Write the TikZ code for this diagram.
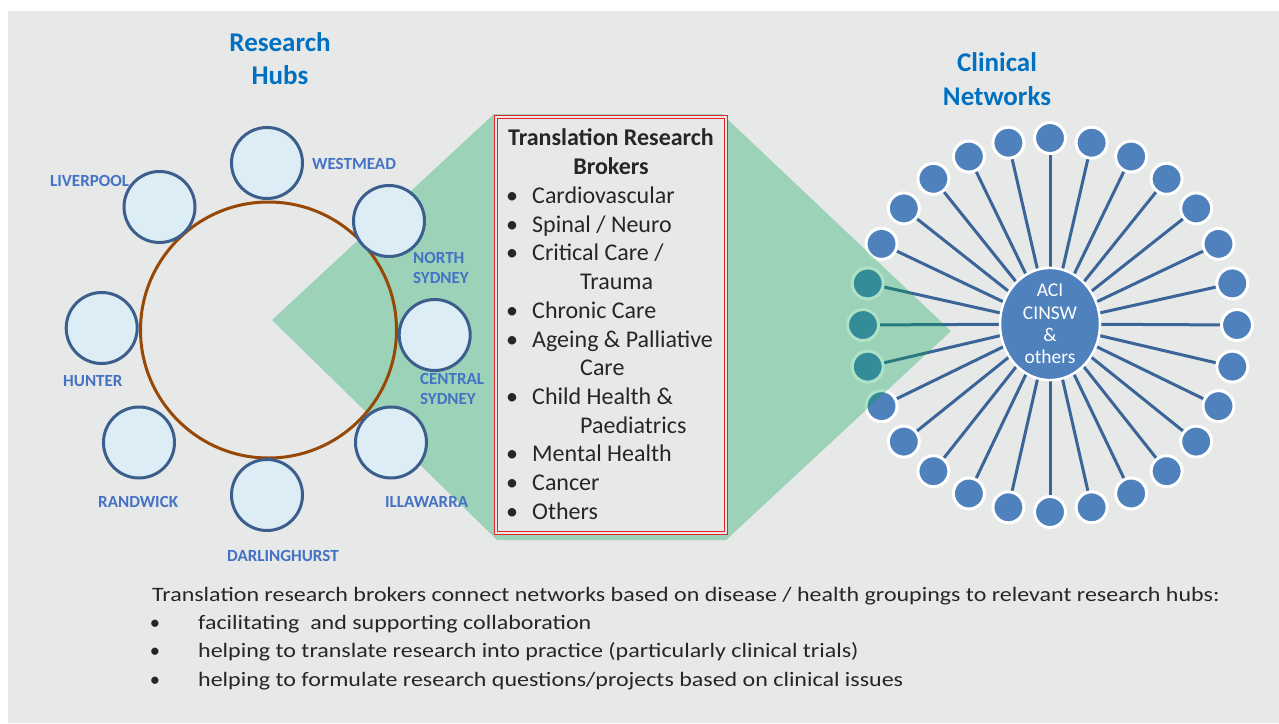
\documentclass[tikz,border=0pt]{standalone}
\usepackage{fontspec}
\setmainfont{Carlito}
\newfontfamily\widefont[FakeStretch=1.17]{Carlito}
\usetikzlibrary{shapes.geometric}
\definecolor{bgg}{RGB}{231,232,232}
\definecolor{titleblue}{RGB}{0,112,192}
\definecolor{labblue}{RGB}{68,114,196}
\definecolor{hubstroke}{RGB}{59,94,140}
\definecolor{hubfill}{RGB}{220,237,245}
\definecolor{brown}{RGB}{151,72,6}
\definecolor{netblue}{RGB}{79,129,189}
\definecolor{netline}{RGB}{59,101,152}
\definecolor{overgreen}{RGB}{0,166,80}
\definecolor{boxred}{RGB}{232,32,40}
\definecolor{txt}{RGB}{38,38,38}
\pgfdeclarelayer{bgl}
\pgfsetlayers{bgl,main}
\begin{document}
\begin{tikzpicture}[x=1pt,y=-1pt,
  title/.style={font=\fontsize{27}{30}\selectfont\bfseries, text=titleblue, anchor=base, inner sep=0},
  hub/.style={circle, draw=hubstroke, fill=hubfill, line width=3, minimum size=71, inner sep=0},
  hublab/.style={font=\fontsize{17}{20}\selectfont\bfseries, text=labblue, anchor=base west, inner sep=0},
  sat/.style={circle, draw=white, fill=netblue, line width=3, minimum size=31, inner sep=0, outer sep=0},
  spoke/.style={draw=netline, line width=3},
  boxtxt/.style={font=\fontsize{24}{29}\selectfont, text=txt, anchor=base west, inner sep=0},
  boxbul/.style={font=\fontsize{24}{29}\selectfont, text=txt, anchor=base, inner sep=0},
  boxtitle/.style={font=\fontsize{24}{29}\selectfont\bfseries, text=txt, anchor=base, inner sep=0},
  bottxt/.style={font=\widefont\fontsize{20.5}{25}\selectfont, text=txt, anchor=base west, inner sep=0},
  botbul/.style={font=\fontsize{20.5}{25}\selectfont, text=txt, anchor=base, inner sep=0}
]
\useasboundingbox (0,0) rectangle (1279,723);
\begin{pgfonlayer}{bgl}
\fill[white] (0,0) rectangle (1279,723);
\fill[bgg] (8,11) rectangle (1279,723);
\end{pgfonlayer}

% ---- clinical network ----
\node[ellipse, draw=white, fill=netblue, line width=2.5, minimum width=100, minimum height=82, inner sep=0,
      text=white, align=center, font=\fontsize{19.5}{22.2}\selectfont] (net) at (1050,324) {ACI\\CINSW\\\&\\others};
\foreach \k in {0,...,27}{
  \pgfmathsetmacro\ang{90-\k*360/28}
  \node[sat] (s\k) at ({1050+187*cos(\ang)},{325-187*sin(\ang)}) {};
  \begin{pgfonlayer}{bgl}
  \draw[spoke] (net.center) -- (s\k.center);
  \end{pgfonlayer}
}

% ---- green overlay ----
\fill[overgreen, fill opacity=0.32] (272,320) -- (494,114) -- (722,114) -- (951,331) -- (726,540) -- (497,540) -- cycle;

% ---- research hubs ----
\node[title] (rh1) at (280,51) {Research};
\node[title] (rh2) at (280,84) {Hubs};
\node[title] (cn1) at (997,71.5) {Clinical};
\node[title] (cn2) at (997,105) {Networks};

\draw[brown, line width=3] (268.5,330) circle[radius=128];
\node[hub] (westmead) at (267,163) {};
\node[hub] (liverpool) at (159.5,207) {};
\node[hub] (northsyd) at (389,221) {};
\node[hub] (hunter) at (101.7,328) {};
\node[hub] (centralsyd) at (434.7,335) {};
\node[hub] (randwick) at (139,442.5) {};
\node[hub] (darling) at (267,495) {};
\node[hub] (illawarra) at (391,442.5) {};

\node[hublab] (lwestmead) at (312,169.4) {WESTMEAD};
\node[hublab] (lliverpool) at (50,186.4) {LIVERPOOL};
\node[hublab] (lnorth1) at (413,263.4) {NORTH};
\node[hublab] (lnorth2) at (413,283.4) {SYDNEY};
\node[hublab] (lhunter) at (63,386.4) {HUNTER};
\node[hublab] (lcentral1) at (420,384.4) {CENTRAL};
\node[hublab] (lcentral2) at (420,404.4) {SYDNEY};
\node[hublab] (lrandwick) at (98,507.4) {RANDWICK};
\node[hublab] (lillawarra) at (385,507.4) {ILLAWARRA};
\node[hublab] (ldarling) at (227,561.4) {DARLINGHURST};

% ---- brokers box ----
\draw[boxred, fill=bgg, line width=0.9, double=bgg, double distance=1.5] (496,117) rectangle (726,533);
\node[boxtitle] (bt1) at (611,145) {Translation Research};
\node[boxtitle] (bt2) at (611,174) {Brokers};
\node[boxbul] (bb1) at (512,203.5) {\textbullet};
\node[boxtxt] (bi1) at (532,203.5) {Cardiovascular};
\node[boxbul] (bb2) at (512,232.2) {\textbullet};
\node[boxtxt] (bi2) at (532,232.2) {Spinal / Neuro};
\node[boxbul] (bb3) at (512,260.9) {\textbullet};
\node[boxtxt] (bi3) at (532,260.9) {Critical Care /};
\node[boxtxt] (bi3b) at (580,289.6) {Trauma};
\node[boxbul] (bb4) at (512,318.3) {\textbullet};
\node[boxtxt] (bi4) at (532,318.3) {Chronic Care};
\node[boxbul] (bb5) at (512,347) {\textbullet};
\node[boxtxt] (bi5) at (532,347) {Ageing \& Palliative};
\node[boxtxt] (bi5b) at (580,375.7) {Care};
\node[boxbul] (bb6) at (512,404.4) {\textbullet};
\node[boxtxt] (bi6) at (532,404.4) {Child Health \&};
\node[boxtxt] (bi6b) at (580,433.1) {Paediatrics};
\node[boxbul] (bb7) at (512,461.8) {\textbullet};
\node[boxtxt] (bi7) at (532,461.8) {Mental Health};
\node[boxbul] (bb8) at (512,490.5) {\textbullet};
\node[boxtxt] (bi8) at (532,490.5) {Cancer};
\node[boxbul] (bb9) at (512,519.2) {\textbullet};
\node[boxtxt] (bi9) at (532,519.2) {Others};

% ---- bottom text ----
\node[bottxt] (bot0) at (152,601) {Translation research brokers connect networks based on disease / health groupings to relevant research hubs:};
\node[botbul] (botb1) at (155,629) {\textbullet};
\node[bottxt] (bot1) at (198,629) {facilitating\ \ and supporting collaboration};
\node[botbul] (botb2) at (155,657.5) {\textbullet};
\node[bottxt] (bot2) at (198,657.5) {helping to translate research into practice (particularly clinical trials)};
\node[botbul] (botb3) at (155,686) {\textbullet};
\node[bottxt] (bot3) at (198,686) {helping to formulate research questions/projects based on clinical issues};
\end{tikzpicture}
\end{document}
